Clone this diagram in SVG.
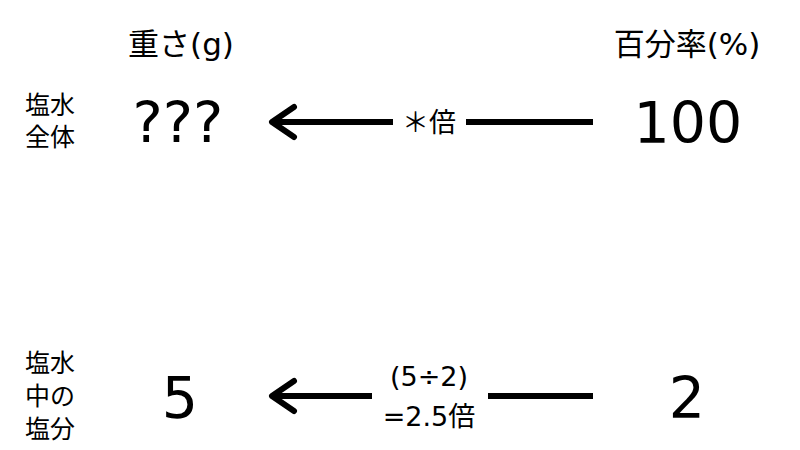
<svg xmlns="http://www.w3.org/2000/svg" width="800" height="450" viewBox="0 0 800 450">
<style>
text{font-family:"DejaVu Sans","Noto Sans CJK JP",sans-serif;fill:#000}
.h{font-size:31px;text-anchor:middle}
.big{font-size:57px;text-anchor:middle}
.side{font-size:25px}
.mid{font-size:27px;text-anchor:middle}
.ln{stroke:#000;stroke-width:6;fill:none}
.hd{stroke:#000;stroke-width:6;fill:none;stroke-linecap:round;stroke-linejoin:round}
</style>
<rect width="800" height="450" fill="#fff"/>
<g id="header-weight"><text class="h" x="181" y="55">重さ(g)</text></g>
<g id="header-percent"><text class="h" x="687" y="55">百分率(%)</text></g>
<g id="label-total"><text class="side" x="25" y="114">塩水</text><text class="side" x="25" y="146">全体</text></g>
<g id="label-salt"><text class="side" x="25" y="372">塩水</text><text class="side" x="25" y="405">中の</text><text class="side" x="25" y="438">塩分</text></g>
<g id="node-unknown"><text class="big" x="178" y="143">???</text></g>
<g id="node-100"><text class="big" x="688" y="143">100</text></g>
<g id="node-5"><text class="big" x="180" y="418">5</text></g>
<g id="node-2"><text class="big" x="687" y="418">2</text></g>
<g id="connectors">
<line class="ln" x1="272" y1="122" x2="393" y2="122"/>
<line class="ln" x1="466" y1="122" x2="593" y2="122"/>
<polyline class="hd" points="294,107 272,122 294,137"/>
<text class="mid" x="429" y="132">＊倍</text>
<line class="ln" x1="272" y1="396" x2="372" y2="396"/>
<line class="ln" x1="488" y1="396" x2="593" y2="396"/>
<polyline class="hd" points="294,381 272,396 294,411"/>
<text class="mid" x="429" y="386">(5÷2)</text>
<text class="mid" x="429" y="426">=2.5倍</text>
</g>
</svg>
